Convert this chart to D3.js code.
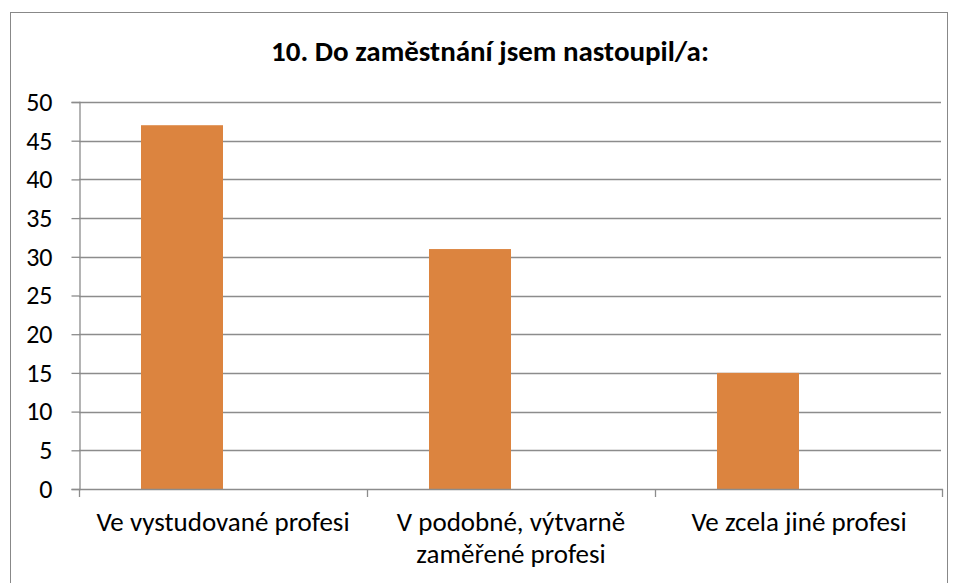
<!DOCTYPE html>
<html>
<head>
  <meta charset="utf-8">
  <title>10. Do zaměstnání jsem nastoupil/a</title>
  <script src="https://d3js.org/d3.v7.min.js"></script>
  <style>
    body { margin: 0; background: #fff; }
    text { font-family: Calibri, Carlito, "Noto Sans", sans-serif; fill: #000; }
  </style>
</head>
<body>
<script>
  var w = 956, h = 583;

  var title = "10. Do zaměstnání jsem nastoupil/a:";
  var categories = [
    ["Ve vystudované profesi"],
    ["V podobné, výtvarně", "zaměřené profesi"],
    ["Ve zcela jiné profesi"]
  ];
  var values = [47, 31, 15];
  // the original has two series slots per category, only the first is filled
  var slots = ["a", "b"];
  var yTicks = [0, 5, 10, 15, 20, 25, 30, 35, 40, 45, 50];

  var plot = {left: 79, right: 943, top: 102, bottom: 489};

  var svg = d3.select("body").append("svg")
    .attr("width", w).attr("height", h);

  // chart border
  svg.append("rect")
    .attr("x", 10.5).attr("y", 12.5)
    .attr("width", 937).attr("height", 600)
    .attr("fill", "#fff").attr("stroke", "#888").attr("stroke-width", 1);

  svg.append("text")
    .attr("x", 490).attr("y", 61)
    .attr("text-anchor", "middle")
    .attr("font-size", "29px").attr("font-weight", "bold")
    .text(title);

  var x = d3.scaleBand()
    .domain(d3.range(categories.length))
    .range([plot.left, plot.right])
    .padding(0);

  var xs = d3.scaleBand()
    .domain(slots)
    .range([0, x.bandwidth()])
    .paddingInner(0)
    .paddingOuter(0.756);

  var y = d3.scaleLinear().domain([0, 50]).range([plot.bottom, plot.top]);

  // gridlines
  svg.append("g")
    .selectAll("line")
    .data(yTicks.filter(function(d){ return d > 0; }))
    .enter().append("line")
    .attr("x1", plot.left).attr("x2", plot.right - 2)
    .attr("y1", function(d){ return Math.round(y(d)) + 0.5; })
    .attr("y2", function(d){ return Math.round(y(d)) + 0.5; })
    .attr("stroke", "#8c8c8c").attr("stroke-width", 1.3);

  // bars
  svg.append("g")
    .selectAll("rect")
    .data(values)
    .enter().append("rect")
    .attr("x", function(d, i){ return x(i) + xs("a"); })
    .attr("y", function(d){ return y(d); })
    .attr("width", xs.bandwidth())
    .attr("height", function(d){ return y(0) - y(d); })
    .attr("fill", "#dc843f");

  // y axis
  var yAxis = svg.append("g")
    .attr("transform", "translate(" + (plot.left + 0.5) + ",0)")
    .call(d3.axisLeft(y).tickValues(yTicks).tickSize(8).tickPadding(19));
  yAxis.select(".domain").attr("stroke", "#8c8c8c").attr("stroke-width", 1.3);
  yAxis.selectAll(".tick line").attr("stroke", "#8c8c8c").attr("stroke-width", 1.3);
  yAxis.selectAll(".tick text")
    .attr("font-size", "26px")
    .attr("font-family", "Calibri, Carlito, 'Noto Sans', sans-serif")
    .attr("fill", "#000");

  // x axis line and category ticks
  var xAxis = svg.append("g");
  xAxis.append("line")
    .attr("x1", plot.left).attr("x2", plot.right)
    .attr("y1", plot.bottom + 0.5).attr("y2", plot.bottom + 0.5)
    .attr("stroke", "#8c8c8c").attr("stroke-width", 1.3);
  xAxis.selectAll("line.tk")
    .data(d3.range(categories.length + 1))
    .enter().append("line")
    .attr("class", "tk")
    .attr("x1", function(i){ return i < categories.length ? x(i) + 0.5 : plot.right - 0.5; })
    .attr("x2", function(i){ return i < categories.length ? x(i) + 0.5 : plot.right - 0.5; })
    .attr("y1", plot.bottom).attr("y2", plot.bottom + 8)
    .attr("stroke", "#8c8c8c").attr("stroke-width", 1.3);

  xAxis.selectAll("text")
    .data(categories)
    .enter().append("text")
    .attr("text-anchor", "middle")
    .attr("font-size", "27px")
    .attr("transform", function(d, i){ return "translate(" + (x(i) + x.bandwidth() / 2) + ",531)"; })
    .each(function(lines){
      var t = d3.select(this);
      lines.forEach(function(s, k){
        t.append("tspan").attr("x", 0).attr("dy", k ? 32 : 0).text(s);
      });
    });
</script>
</body>
</html>
